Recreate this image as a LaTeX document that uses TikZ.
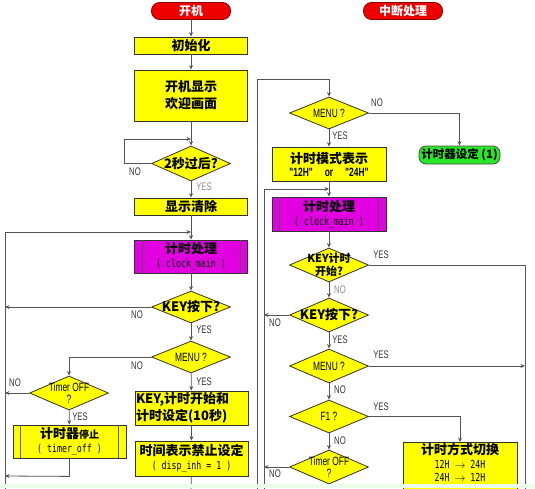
\documentclass[tikz,border=0pt]{standalone}
\usepackage{fontspec}
\setmainfont{Liberation Sans}
\newfontfamily\cjk{Noto Sans CJK SC}
\newfontfamily\condf{Liberation Sans}[FakeStretch=0.7]
\newfontfamily\monof{DejaVu Sans Mono}[FakeStretch=0.75]
\usetikzlibrary{shapes.geometric,arrows.meta}
\definecolor{lnc}{RGB}{85,85,85}
\definecolor{boxy}{RGB}{255,255,0}
\definecolor{mag}{RGB}{224,0,224}
\definecolor{termred}{RGB}{238,0,0}
\definecolor{grn}{RGB}{40,230,40}
\newcommand\prelines[1]{\draw[line] ([xshift=8pt]#1.north west) -- ([xshift=8pt]#1.south west) ([xshift=-8pt]#1.north east) -- ([xshift=-8pt]#1.south east);}
\newcommand\subtxt[1]{{\monof\mdseries\fontsize{11}{12}\selectfont #1}}
\tikzset{
  line/.style={draw=lnc, line width=0.8pt},
  arr/.style={line, -{Stealth[length=4.5pt,width=4pt]}},
  proc/.style={draw=black!80, line width=0.8pt, fill=boxy, minimum width=113pt, inner sep=1pt, align=center, font=\cjk\bfseries\fontsize{13}{17}\selectfont},
  pre/.style={proc, fill=mag},
  dec/.style={diamond, draw=black!80, line width=0.8pt, fill=boxy, minimum width=79pt, minimum height=33pt, inner sep=0pt},
  dtxt/.style={align=center, inner sep=0pt, font=\cjk\bfseries\fontsize{13}{15}\selectfont},
  dsm/.style={align=center, inner sep=0pt, font=\condf\fontsize{12}{12}\selectfont},
  term/.style={rounded corners=8pt, draw=red!55!black, line width=0.8pt, fill=termred, text=white, minimum width=79pt, minimum height=17pt, inner sep=0pt, font=\cjk\bfseries\fontsize{12}{14}\selectfont},
  lbl/.style={font=\condf\fontsize{11}{12}\selectfont, text=black!80, inner sep=0pt}
}
\begin{document}
\begin{tikzpicture}[x=1pt,y=-1pt]
\useasboundingbox (0,0) rectangle (535,488);
\clip (0,0) rectangle (535,488);
\fill[white] (0,0) rectangle (535,488);

% ---------- left column ----------
\node[term] (start) at (191,11) {开机};
\node[proc, minimum height=17pt] (init) at (191,45.5) {初始化};
\node[proc, minimum height=51pt] (welcome) at (191,95.5) {开机显示\\欢迎画面};
\node[dec, minimum height=35pt, label={[dtxt]center:2秒过后?}] (wait) at (191,163.5) {};
\node[proc, minimum height=17pt] (clear) at (191,206.5) {显示清除};
\node[pre, minimum height=33pt] (clk1) at (191,256.5) {计时处理\\[-3pt]\subtxt{( clock\_main )}};
\prelines{clk1}
\node[dec, minimum height=32pt, label={[dtxt]center:KEY按下?}] (key1) at (191,307) {};
\node[dec, minimum height=32pt, label={[dsm]center:MENU ?}] (menu1) at (191,357) {};
\node[dec, minimum height=34pt, label={[dsm]center:Timer OFF\\?}] (tmoff1) at (69,393) {};
\node[proc, minimum height=33pt] (stop1) at (69.5,441.5) {计时器{\fontsize{10}{12}\selectfont 停止}\\[-3pt]\subtxt{( timer\_off )}};
\prelines{stop1}
\node[proc, minimum height=34pt, align=left, text width=111pt, inner sep=1pt] (keyset) at (191.5,408) {KEY,计时开始和\\计时设定(10秒)};
\node[proc, minimum height=35pt] (inh) at (191.5,458.5) {时间表示禁止设定\\[-3pt]\subtxt{( disp\_inh = 1 )}};

\coordinate (j1) at (191,139);
\coordinate (j2) at (191,232);
\coordinate (busL) at (5,495);
\coordinate (outL) at (191,495);

\draw[arr] (start) -- (init);
\draw[arr] (init) -- (welcome);
\draw[arr] (welcome) -- (wait);
\draw[arr] (wait.west) -- ++(-27,0) |- (j1);
\draw[arr] (wait) -- (clear);
\draw[arr] (clear) -- (clk1);
\draw[arr] (busL) |- (j2);
\draw[arr] (clk1) -- (key1);
\draw[arr] (key1.west) -- (key1.west -| busL);
\draw[arr] (key1) -- (menu1);
\draw[arr] (menu1.west) -| (tmoff1.north);
\draw[arr] (tmoff1.west) -- (tmoff1.west -| busL);
\draw[arr] (tmoff1) -- (stop1);
\draw[arr] (stop1.south) -- ++(0,18) -- (busL |- 0,476);
\draw[arr] (menu1) -- (keyset);
\draw[arr] (keyset) -- (inh);
\draw[line] (inh) -- (outL);

\node[lbl] (l1) at (135,172) {NO};
\node[lbl, text=black!45] (l2) at (204,187) {YES};
\node[lbl] (l3) at (137,315) {NO};
\node[lbl] (l4) at (204,330) {YES};
\node[lbl] (l5) at (137,366) {NO};
\node[lbl] (l6) at (15,383) {NO};
\node[lbl] (l7) at (80,417) {YES};
\node[lbl] (l8) at (204,382) {YES};

% ---------- right column ----------
\node[term] (intr) at (403,11) {中断处理};
\node[dec, minimum height=32pt, label={[dsm]center:MENU ?}] (menu2) at (329,113) {};
\node[rounded corners=7pt, draw=black!70, line width=0.8pt, fill=grn, minimum width=81pt, minimum height=18pt, inner sep=0pt, font=\cjk\bfseries\fontsize{11.5}{13}\selectfont] (setg) at (459.5,155) {计时器设定 (1)};
\node[proc, minimum width=114pt, minimum height=34pt] (mode) at (329,164) {计时模式表示\\[-4pt]{\condf\bfseries\fontsize{12}{12}\selectfont "12H"\quad or\quad "24H"}};
\node[pre, minimum width=114pt, minimum height=34pt] (clk2) at (329,214) {计时处理\\[-3pt]\subtxt{( clock\_main )}};
\prelines{clk2}
\node[dec, minimum height=34pt, label={[dtxt, font=\cjk\bfseries\fontsize{11}{13}\selectfont]center:KEY计时\\开始?}] (keyst) at (329,265) {};
\node[dec, minimum height=34pt, label={[dtxt]center:KEY按下?}] (key2) at (329,315) {};
\node[dec, minimum height=34pt, label={[dsm]center:MENU ?}] (menu3) at (329,366) {};
\node[dec, minimum height=33pt, label={[dsm]center:F1 ?}] (f1) at (329,416.5) {};
\node[dec, minimum height=34pt, label={[dsm]center:Timer OFF\\?}] (tmoff2) at (329,467) {};
\node[proc, anchor=north, minimum width=114pt, minimum height=60pt] (swt) at (460,442) {计时方式切换\\[-3pt]\subtxt{12H $\rightarrow$ 24H}\\[-4pt]\subtxt{24H $\rightarrow$ 12H}\\[8pt]};

\coordinate (rin) at (257,495);
\coordinate (j3) at (329,79);
\coordinate (j4) at (329,189);
\coordinate (busR) at (264,495);
\coordinate (busRR) at (525,495);
\coordinate (outR) at (460,495);

\draw[line] (rin) |- (j3);
\draw[arr] (j3) -- (menu2.north);
\draw[arr] (menu2.east) -| (setg.north);
\draw[arr] (menu2) -- (mode);
\draw[arr] (mode) -- (clk2);
\draw[arr] (busR) |- (j4);
\draw[arr] (clk2) -- (keyst);
\draw[line] (keyst.east) -| (busRR);
\draw[arr] (keyst) -- (key2);
\draw[arr] (key2.west) -- (key2.west -| busR);
\draw[arr] (key2) -- (menu3);
\draw[arr] (menu3.east) -- (menu3.east -| busRR);
\draw[arr] (menu3) -- (f1);
\draw[arr] (f1.east) -| (swt.north);
\draw[arr] (f1) -- (tmoff2);
\draw[arr] (tmoff2.west) -- (tmoff2.west -| busR);

\node[lbl] (r1) at (377,103) {NO};
\node[lbl] (r2) at (340,136) {YES};
\node[lbl] (r3) at (381,255) {YES};
\node[lbl, text=black!45] (r4) at (340,290) {NO};
\node[lbl] (r5) at (275,323) {NO};
\node[lbl] (r6) at (340,340) {YES};
\node[lbl] (r7) at (381,355) {YES};
\node[lbl] (r8) at (340,390) {NO};
\node[lbl] (r9) at (381,407) {YES};
\node[lbl] (r10) at (340,441) {NO};
\node[lbl] (r11) at (275,474) {NO};

\fill[green!8!white] (0,484) rectangle (535,488);
\end{tikzpicture}
\end{document}
